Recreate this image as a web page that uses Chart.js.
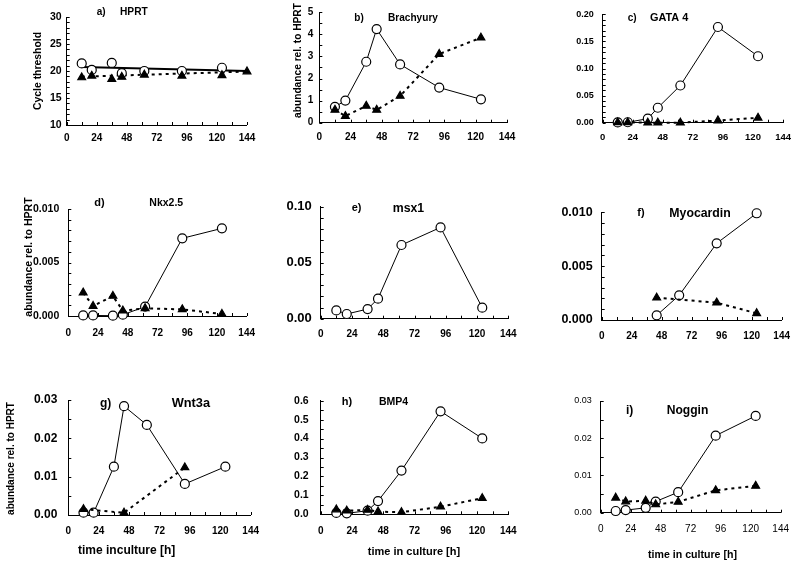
<!DOCTYPE html>
<html>
<head>
<meta charset="utf-8">
<script src="https://cdn.jsdelivr.net/npm/chart.js@4.4.1/dist/chart.umd.min.js"></script>
<style>
  html, body { margin: 0; background: #fff; }
  #wrap { position: relative; width: 800px; height: 565px; }
  #wrap canvas { position: absolute; left: 0; top: 0; }
</style>
</head>
<body>
<div id="wrap"></div>
<script>
// sampling times (h)
const times = [12, 20, 36, 44, 62, 92, 124];
const hprtTimes = [12, 20, 36, 44, 62, 92, 124, 144];
const fitTimes = [12, 144];

// a) HPRT, cycle threshold
const hprtOpen = [21.4, 20.2, 21.5, 19.6, 20.0, 20.0, 20.6];
const hprtFilled = [18.8, 19.1, 18.5, 18.9, 19.3, 19.1, 19.2, 19.9];
const hprtFitOpen = [20.75, 20.0];
const hprtFitFilled = [18.95, 19.9];

// b) Brachyury
const brachOpen = [0.72, 1.0, 2.76, 4.24, 2.64, 1.59, 1.06];
const brachFilled = [0.58, 0.30, 0.76, 0.58, 1.21, 3.11, 3.85];

// c) GATA 4
const gataOpen = [0.0005, 0.0008, 0.0074, 0.0276, 0.0687, 0.1767, 0.1227];
const gataFilled = [0.0005, 0.0005, 0.0, 0.0, 0.0, 0.004, 0.009];

// d) Nkx2.5
const nkxOpen = [0.00005, 0.00005, 0.00003, 0.00012, 0.00087, 0.00726, 0.00819];
const nkxFilled = [0.00218, 0.00093, 0.00187, 0.0005, 0.00072, 0.00062, 0.00019];

// e) msx1
const msxOpen = [0.0074, 0.0042, 0.0086, 0.0179, 0.0658, 0.0815, 0.0098];

// f) Myocardin
const myoOpen = [null, null, null, 0.00043, 0.00229, 0.00712, 0.00991];
const myoFilled = [null, null, null, 0.00207, null, 0.00161, 0.00062];

// g) Wnt3a
const wntOpen = [0.0006, 0.0006, 0.0126, 0.0284, 0.0235, 0.0081, 0.0126];
const wntFilled = [0.0015, null, null, 0.0006, null, 0.0124, null];

// h) BMP4
const bmpOpen = [0.007, 0.005, 0.019, 0.070, 0.231, 0.544, 0.401];
const bmpFilled = [0.025, 0.019, 0.023, 0.014, 0.011, 0.040, 0.085];

// i) Noggin
const nogOpen = [0.00045, 0.0007, 0.0013, 0.003, 0.0055, 0.0207, 0.026];
const nogFilled = [0.0040, 0.0030, 0.0032, 0.0022, 0.0029, 0.0060, 0.0072];

const FONT = '"Liberation Sans", Arial, sans-serif';
const yTitle = 'abundance rel. to HPRT';

function pts(xs, ys) {
  return xs.map((x, i) => ({ x: x, y: ys[i] }));
}

function T(text, x, y, size, rot) {
  return { text, x, y, size, rot: rot || 0 };
}

const panels = [
  { area: [66.7, 17, 247, 125], yMin: 10, yMax: 30, yMinor: 1, yMajor: 5, dec: 0, yFont: 10.5, xFont: 10, yPad: 5, xPad: 7,
    sets: [
      { x: hprtTimes, y: hprtFilled, tri: true, line: false },
      { x: times, y: hprtOpen, line: false },
      { x: fitTimes, y: hprtFitFilled, fit: true, dotted: true },
      { x: fitTimes, y: hprtFitOpen, fit: true }
    ],
    texts: [T('a)', 96.7, 12, 10), T('HPRT', 120, 12, 10.2), T('Cycle threshold', 38.3, 71, 10.4, -90)] },
  { area: [319.3, 12.3, 507, 122.7], yMin: 0, yMax: 5, yMinor: 0.5, yMajor: 1, dec: 0, yFont: 10, xFont: 10, yPad: 6, xPad: 9,
    sets: [
      { x: times, y: brachFilled, tri: true },
      { x: times, y: brachOpen }
    ],
    texts: [T('b)', 354.3, 18.3, 10), T('Brachyury', 388, 18.5, 10.1), T(yTitle, 298, 60.5, 10.2, -90)] },
  { area: [602.7, 14, 783.3, 122.7], yMin: 0, yMax: 0.2, yMinor: 0.01, yMajor: 0.05, dec: 2, yFont: 9, xFont: 9.5, yPad: 9, xPad: 9,
    sets: [
      { x: times, y: gataFilled, tri: true },
      { x: times, y: gataOpen }
    ],
    texts: [T('c)', 627.7, 18.3, 10), T('GATA 4', 650, 18.3, 10.9)] },
  { area: [68.3, 209, 246.7, 316], yMin: 0, yMax: 0.01, yMinor: 0.001, yMajor: 0.005, dec: 3, yFont: 10.5, xFont: 10, yPad: 9, xPad: 11,
    sets: [
      { x: times, y: nkxFilled, tri: true },
      { x: times, y: nkxOpen }
    ],
    texts: [T('d)', 94.3, 203.3, 11), T('Nkx2.5', 149.3, 203.5, 10.5), T(yTitle, 29.2, 257, 10.6, -90)] },
  { area: [320.7, 206.7, 508.3, 318.7], yMin: 0, yMax: 0.1, yMinor: 0.01, yMajor: 0.05, dec: 2, yFont: 13, xFont: 10, yPad: 9, xPad: 10,
    sets: [
      { x: times, y: msxOpen }
    ],
    texts: [T('e)', 351.7, 208.3, 11), T('msx1', 392.7, 208.3, 12.3)] },
  { area: [601.7, 212.3, 786.7, 320], yMin: 0, yMax: 0.01, yMinor: 0.001, yMajor: 0.005, dec: 3, yFont: 12.5, xFont: 10, yPad: 9, xPad: 10,
    sets: [
      { x: times, y: myoFilled, tri: true },
      { x: times, y: myoOpen }
    ],
    texts: [T('f)', 637.3, 213.3, 11), T('Myocardin', 669.3, 213.3, 12.3)] },
  { area: [68.3, 400, 250.7, 515], yMin: 0, yMax: 0.03, yMinor: 0.005, yMajor: 0.01, dec: 2, yFont: 12, xFont: 10, yPad: 11, xPad: 10,
    sets: [
      { x: times, y: wntFilled, tri: true },
      { x: times, y: wntOpen }
    ],
    texts: [T('g)', 100, 403.3, 12), T('Wnt3a', 171.7, 403, 12.8), T(yTitle, 11.7, 458.5, 10, -90),
      T('time inculture [h]', 126.7, 551, 12)] },
  { area: [320.7, 400.7, 508.3, 514.3], yMin: 0, yMax: 0.6, yMinor: 0.05, yMajor: 0.1, dec: 1, yFont: 10.5, xFont: 10, yPad: 12, xPad: 11,
    sets: [
      { x: times, y: bmpFilled, tri: true },
      { x: times, y: bmpOpen }
    ],
    texts: [T('h)', 341.7, 401.7, 11), T('BMP4', 379, 401.7, 10.5), T('time in culture [h]', 414, 551.7, 11)] },
  { area: [600.7, 401, 780.7, 512.7], yMin: 0, yMax: 0.03, yMinor: 0.005, yMajor: 0.01, dec: 2, yFont: 9, xFont: 10, yPad: 9, xPad: 11, light: true,
    sets: [
      { x: times, y: nogFilled, tri: true },
      { x: times, y: nogOpen }
    ],
    texts: [T('i)', 626, 411, 12), T('Noggin', 666.7, 411, 12.1), T('time in culture [h]', 692.5, 555, 10.6)] }
];

function makeSet(s) {
  const dotted = s.tri || s.dotted;
  return {
    data: pts(s.x, s.y),
    showLine: s.line !== false,
    spanGaps: true,
    clip: false,
    borderColor: '#000',
    borderWidth: s.fit || dotted ? 2 : 1,
    borderDash: dotted ? [3, 4] : [],
    pointRadius: s.fit ? 0 : 4.5,
    pointHoverRadius: s.fit ? 0 : 4.5,
    pointStyle: s.tri ? 'triangle' : 'circle',
    pointBackgroundColor: s.tri ? '#000' : '#fff',
    pointBorderColor: '#000',
    pointBorderWidth: 1.2,
    tension: 0
  };
}

function isMajor(v, step) {
  const r = v / step;
  return Math.abs(r - Math.round(r)) < 1e-6;
}

// tick marks pointing into the plot, like the original figure
const inTicks = {
  id: 'inTicks',
  beforeDatasetsDraw(chart) {
    const ctx = chart.ctx, a = chart.chartArea;
    const xs = chart.scales.x, ys = chart.scales.y;
    ctx.save();
    ctx.strokeStyle = '#000';
    ctx.lineWidth = 1;
    ctx.beginPath();
    xs.ticks.forEach(t => {
      const px = Math.round(xs.getPixelForValue(t.value)) + 0.5;
      ctx.moveTo(px, a.bottom);
      ctx.lineTo(px, a.bottom - 3);
    });
    ys.ticks.forEach(t => {
      const py = Math.round(ys.getPixelForValue(t.value)) + 0.5;
      ctx.moveTo(a.left, py);
      ctx.lineTo(a.left + 3, py);
    });
    ctx.stroke();
    ctx.restore();
  }
};

const wrap = document.getElementById('wrap');

panels.forEach(p => {
  const cv = document.createElement('canvas');
  cv.width = 800;
  cv.height = 565;
  wrap.appendChild(cv);
  const [L, Tp, R, B] = p.area;
  const weight = p.light ? 'normal' : 'bold';

  const texts = {
    id: 'texts',
    afterDraw(chart) {
      const ctx = chart.ctx;
      ctx.save();
      ctx.fillStyle = '#000';
      p.texts.forEach(t => {
        ctx.save();
        ctx.font = 'bold ' + t.size + 'px ' + FONT;
        ctx.translate(t.x, t.y);
        if (t.rot) {
          ctx.rotate(t.rot * Math.PI / 180);
          ctx.textAlign = 'center';
        } else if (t.text.startsWith('time')) {
          ctx.textAlign = 'center';
        } else {
          ctx.textAlign = 'left';
        }
        ctx.textBaseline = 'middle';
        ctx.fillText(t.text, 0, 0);
        ctx.restore();
      });
      ctx.restore();
    }
  };

  new Chart(cv.getContext('2d'), {
    type: 'scatter',
    data: { datasets: p.sets.map(makeSet) },
    options: {
      responsive: false,
      animation: false,
      events: [],
      layout: {
        padding: { left: L - 40, top: Tp, right: 800 - R, bottom: 565 - B - 20 }
      },
      plugins: {
        legend: { display: false },
        tooltip: { enabled: false }
      },
      scales: {
        x: {
          type: 'linear',
          min: 0,
          max: 144,
          afterFit: s => { s.height = 20; },
          grid: { display: false, drawTicks: false },
          border: { display: true, color: '#000', width: 1 },
          ticks: {
            stepSize: 12,
            autoSkip: false,
            maxRotation: 0,
            padding: p.xPad,
            color: '#000',
            font: { family: FONT, size: p.xFont, weight: weight },
            callback: v => (v % 24 === 0 ? String(v) : '')
          }
        },
        y: {
          type: 'linear',
          min: p.yMin,
          max: p.yMax,
          afterFit: s => { s.width = 40; },
          grid: { display: false, drawTicks: false },
          border: { display: true, color: '#000', width: 1 },
          ticks: {
            stepSize: p.yMinor,
            autoSkip: false,
            padding: p.yPad,
            color: '#000',
            font: { family: FONT, size: p.yFont, weight: weight },
            callback: v => (isMajor(v, p.yMajor) ? v.toFixed(p.dec) : '')
          }
        }
      }
    },
    plugins: [inTicks, texts]
  });
});
</script>
</body>
</html>
